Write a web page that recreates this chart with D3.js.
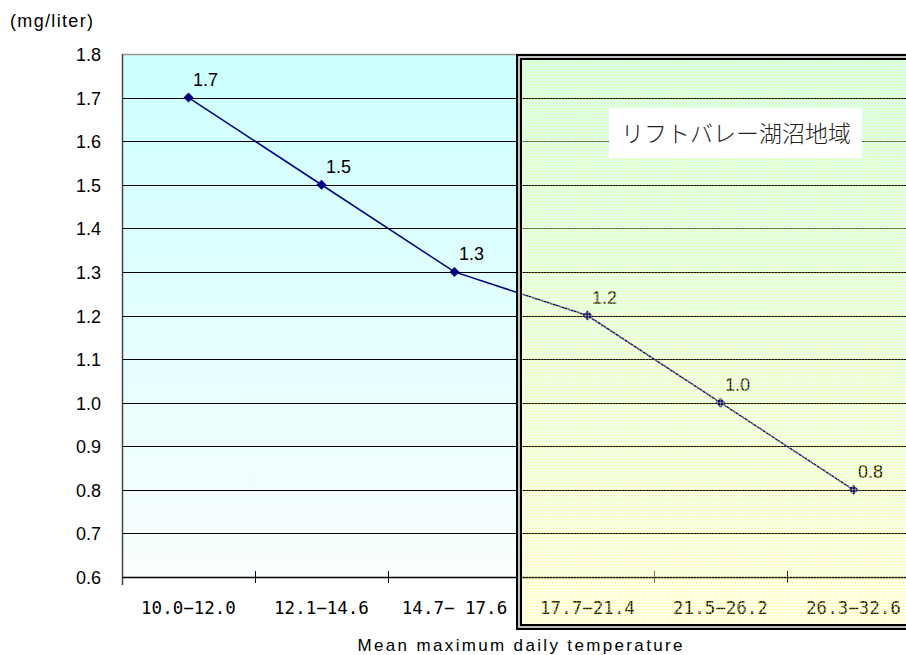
<!DOCTYPE html>
<html>
<head>
<meta charset="utf-8">
<script src="https://cdn.jsdelivr.net/npm/d3@7"></script>
<style>
  body { margin: 0; background: #fff; }
  svg { display: block; }
</style>
</head>
<body>
<div id="chart"></div>
<script>
// chart data
const categories = ['10.0\u221212.0', '12.1\u221214.6', '14.7\u2212 17.6', '17.7\u221221.4', '21.5\u221226.2', '26.3\u221232.6'];
const values = [1.7, 1.5, 1.3, 1.2, 1.0, 0.8];
const yTicks = [0.6, 0.7, 0.8, 0.9, 1.0, 1.1, 1.2, 1.3, 1.4, 1.5, 1.6, 1.7, 1.8];
const regionLabel = 'リフトバレー湖沼地域';
const regionStart = 3; // first category inside the highlighted region

const width = 906, height = 655;
const plot = {left: 122, right: 920, top: 54, bottom: 577};
const sans = '"Liberation Sans", Arial, sans-serif';
const mono = '"DejaVu Sans Mono", monospace';

let svg = d3.select('#chart').append('svg')
  .attr('width', width)
  .attr('height', height);

let defs = svg.append('defs');
let grad = defs.append('linearGradient')
  .attr('id', 'bg')
  .attr('x1', 0).attr('y1', 0).attr('x2', 0).attr('y2', 1);
grad.append('stop').attr('offset', '0%').attr('stop-color', '#ccffff');
grad.append('stop').attr('offset', '100%').attr('stop-color', '#fafefe');

// yellow hatch for the highlighted region
let pat = defs.append('pattern')
  .attr('id', 'hatch')
  .attr('patternUnits', 'userSpaceOnUse')
  .attr('width', 3).attr('height', 3);
pat.append('rect').attr('width', 3).attr('height', 3)
  .attr('fill', '#ffff66').attr('fill-opacity', 0.08);
pat.append('path').attr('d', 'M0 0.5 H3 M0.5 0 V3')
  .attr('stroke', '#ffff80').attr('stroke-width', 1).attr('stroke-opacity', 0.35);

let x = d3.scaleBand()
  .domain(categories)
  .range([plot.left, plot.right]);
let y = d3.scaleLinear()
  .domain([0.6, 1.8])
  .range([plot.bottom, plot.top]);

// plot background
svg.append('rect')
  .attr('x', plot.left).attr('y', plot.top)
  .attr('width', plot.right - plot.left)
  .attr('height', plot.bottom - plot.top)
  .attr('fill', 'url(#bg)');

// top border
svg.append('line')
  .attr('x1', plot.left).attr('x2', plot.right)
  .attr('y1', plot.top + 0.5).attr('y2', plot.top + 0.5)
  .attr('stroke', '#999').attr('stroke-width', 1.5);

// gridlines
svg.selectAll('line.grid')
  .data(yTicks.filter(function(d) { return d > 0.6 && d < 1.8; }))
  .enter()
  .append('line')
  .attr('class', 'grid')
  .attr('x1', plot.left).attr('x2', plot.right)
  .attr('y1', function(d) { return Math.round(y(d)) + 0.5; })
  .attr('y2', function(d) { return Math.round(y(d)) + 0.5; })
  .attr('stroke', '#000').attr('stroke-width', 1);

// y axis
svg.append('line')
  .attr('x1', plot.left + 0.5).attr('x2', plot.left + 0.5)
  .attr('y1', plot.top).attr('y2', plot.bottom + 8)
  .attr('stroke', '#444').attr('stroke-width', 1.5);
svg.selectAll('text.ytick')
  .data(yTicks)
  .enter()
  .append('text')
  .attr('class', 'ytick')
  .attr('x', 101)
  .attr('y', function(d) { return y(d) + 7; })
  .attr('text-anchor', 'end')
  .style('font-family', sans)
  .style('font-size', '18px')
  .attr('fill', '#000')
  .text(function(d) { return d.toFixed(1); });

svg.append('text')
  .attr('x', 10).attr('y', 27)
  .style('font-family', sans)
  .style('font-size', '18px')
  .attr('textLength', 83)
  .text('(mg/liter)');

// x axis
svg.append('line')
  .attr('x1', plot.left).attr('x2', plot.right)
  .attr('y1', plot.bottom + 0.5).attr('y2', plot.bottom + 0.5)
  .attr('stroke', '#000').attr('stroke-width', 1.5);
svg.selectAll('line.xtick')
  .data(categories.slice(1))
  .enter()
  .append('line')
  .attr('class', 'xtick')
  .attr('x1', function(d) { return Math.round(x(d)) + 0.5; })
  .attr('x2', function(d) { return Math.round(x(d)) + 0.5; })
  .attr('y1', plot.bottom - 6).attr('y2', plot.bottom + 6)
  .attr('stroke', '#000').attr('stroke-width', 1);
svg.selectAll('text.xlab')
  .data(categories)
  .enter()
  .append('text')
  .attr('class', 'xlab')
  .attr('x', function(d) { return x(d) + x.bandwidth() / 2; })
  .attr('y', 614)
  .attr('text-anchor', 'middle')
  .style('font-family', mono)
  .style('font-size', '17.5px')
  .attr('fill', '#000')
  .text(function(d) { return d; });

svg.append('text')
  .attr('x', 520).attr('y', 651)
  .attr('text-anchor', 'middle')
  .style('font-family', sans)
  .style('font-size', '17px')
  .attr('textLength', 325)
  .text('Mean maximum daily temperature');

// series line
let line = d3.line()
  .x(function(d, i) { return x(categories[i]) + x.bandwidth() / 2; })
  .y(function(d) { return y(d); });
svg.append('path')
  .datum(values)
  .attr('d', line)
  .attr('fill', 'none')
  .attr('stroke', '#000080')
  .attr('stroke-width', 1.5);

svg.selectAll('path.marker')
  .data(values)
  .enter()
  .append('path')
  .attr('class', 'marker')
  .attr('transform', function(d, i) {
    return 'translate(' + (x(categories[i]) + x.bandwidth() / 2) + ',' + y(d) + ')';
  })
  .attr('d', 'M0 -5 L5 0 L0 5 L-5 0 Z')
  .attr('fill', '#000080');

svg.selectAll('text.vlab')
  .data(values)
  .enter()
  .append('text')
  .attr('class', 'vlab')
  .attr('x', function(d, i) { return x(categories[i]) + x.bandwidth() / 2 + 17; })
  .attr('y', function(d) { return y(d) - 12; })
  .attr('text-anchor', 'middle')
  .style('font-family', sans)
  .style('font-size', '18px')
  .attr('fill', '#000')
  .text(function(d) { return d.toFixed(1); });

// highlighted region overlay
let rx = x(categories[regionStart]) - 2;
svg.append('rect')
  .attr('x', rx).attr('y', 57)
  .attr('width', width - rx + 20).attr('height', 570)
  .attr('fill', 'url(#hatch)');
svg.append('rect')
  .attr('x', rx).attr('y', 57)
  .attr('width', width - rx + 20).attr('height', 570)
  .attr('fill', 'none')
  .attr('stroke', '#000').attr('stroke-width', 6);
svg.append('rect')
  .attr('x', rx).attr('y', 57)
  .attr('width', width - rx + 20).attr('height', 570)
  .attr('fill', 'none')
  .attr('stroke', '#fff').attr('stroke-width', 1.5);

// region label
svg.append('rect')
  .attr('x', 609).attr('y', 108)
  .attr('width', 253).attr('height', 50)
  .attr('fill', '#fff');
svg.append('text')
  .attr('x', 736).attr('y', 142)
  .attr('text-anchor', 'middle')
  .style('font-family', '"Noto Sans CJK JP", sans-serif')
  .style('font-size', '23px')
  .style('font-weight', 300)
  .attr('fill', '#222')
  .text(regionLabel);
</script>
</body>
</html>
